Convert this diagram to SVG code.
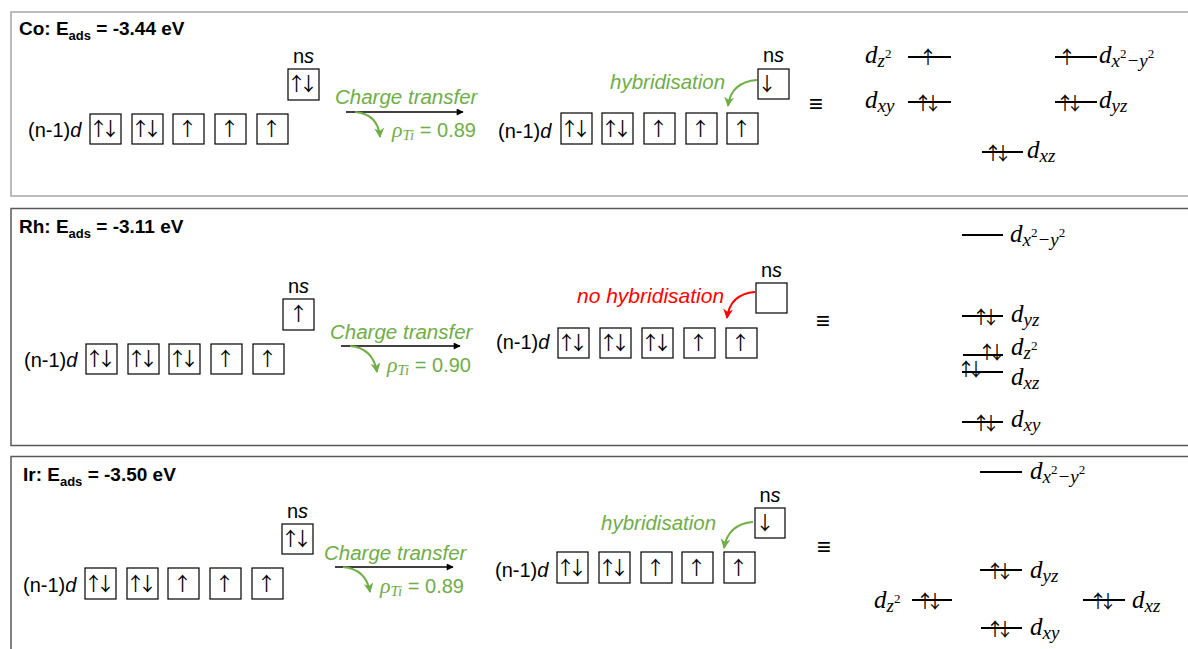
<svg xmlns="http://www.w3.org/2000/svg" width="1188" height="649" viewBox="0 0 1188 649">
<defs>
<style>
.bg{fill:#fff}
.pco{fill:none;stroke:#a6a6a6;stroke-width:1.5}
.pnl{fill:none;stroke:#595959;stroke-width:1.5}
.box{fill:#fff;stroke:#000;stroke-width:1.2}
.s{font-family:"Liberation Sans",Arial,sans-serif;fill:#000}
.title{font-size:19px;font-weight:bold}
.lbl{font-size:20px}
.spin{font-family:"Noto Sans CJK JP","DejaVu Sans",sans-serif;font-size:19px;text-anchor:middle;fill:#000}
.oa{font-family:"Noto Sans CJK JP","DejaVu Sans",sans-serif;font-size:18px;text-anchor:middle;fill:#000}
.it{font-style:italic}
.gt{fill:#70ad47;font-style:italic;font-size:20.5px}
.rt{fill:#ff0000;font-style:italic;font-size:21px}
.rho{fill:#70ad47;font-size:20px}
.m{font-family:"Liberation Serif","Times New Roman",serif;font-style:italic;font-size:25px;fill:#000}
.ms{font-size:19px}
.mp{font-size:13px;font-style:normal}
.mr{font-family:"Liberation Serif","Times New Roman",serif;font-style:italic}
.lvl{stroke:#000;stroke-width:2}
.eq{font-size:24px;text-anchor:middle}
.ct{stroke:#000;stroke-width:1.6;fill:none}
.gc{stroke:#70ad47;stroke-width:2;fill:none}
.rc{stroke:#ff0000;stroke-width:2;fill:none}
</style>
<marker id="ahK" viewBox="0 0 10 10" refX="9" refY="5" markerWidth="8" markerHeight="7" markerUnits="userSpaceOnUse" orient="auto"><path d="M0,0 L10,5 L0,10 z" fill="#000"/></marker>
<marker id="ahG" viewBox="0 0 10 10" refX="9" refY="5" markerWidth="10" markerHeight="10" markerUnits="userSpaceOnUse" orient="auto"><path d="M0,0 L10,5 L0,10 L3,5 z" fill="#70ad47"/></marker>
<marker id="ahR" viewBox="0 0 10 10" refX="9" refY="5" markerWidth="10" markerHeight="10" markerUnits="userSpaceOnUse" orient="auto"><path d="M0,0 L10,5 L0,10 L3,5 z" fill="#ff0000"/></marker>
</defs>
<rect class="bg" x="0" y="0" width="1188" height="649"/>

<!-- ===== Co panel ===== -->
<g id="panel-co">
<rect class="pco" x="11" y="12" width="1190" height="184"/>
<text class="s title" x="19" y="35">Co: E<tspan font-size="13" dy="5">ads</tspan><tspan dy="-5"> = -3.44 eV</tspan></text>
<g id="co-initial">
<text class="s lbl" x="28" y="137">(n-1)<tspan class="it">d</tspan></text>
<rect class="box" x="90" y="114" width="31" height="30"/>
<rect class="box" x="132" y="114" width="31" height="30"/>
<rect class="box" x="173" y="114" width="31" height="30"/>
<rect class="box" x="215" y="114" width="31" height="30"/>
<rect class="box" x="257" y="114" width="31" height="30"/>
<text class="spin" x="98.5 110.5" y="136">↑↓</text>
<text class="spin" x="140.5 152.5" y="136">↑↓</text>
<text class="spin" x="187.5" y="136">↑</text>
<text class="spin" x="229.5" y="136">↑</text>
<text class="spin" x="271.5" y="136">↑</text>
<rect class="box" x="288" y="69" width="31" height="31"/>
<text class="spin" x="296.5 308.5" y="91">↑↓</text>
<text class="s lbl" x="303.5" y="63" text-anchor="middle">n<tspan class="it">s</tspan></text>
</g>
<g id="co-transfer-labels">
<text class="s gt" x="335" y="104">Charge transfer</text>
<text class="s rho" x="392" y="137"><tspan class="mr" font-size="22">ρ</tspan><tspan class="mr" font-size="15" dy="3">Ti</tspan><tspan dy="-3"> = 0.89</tspan></text>
</g>
<g id="co-final">
<text class="s lbl" x="498" y="138">(n-1)<tspan class="it">d</tspan></text>
<rect class="box" x="561" y="113" width="31" height="31"/>
<rect class="box" x="602" y="113" width="31" height="31"/>
<rect class="box" x="644" y="113" width="31" height="31"/>
<rect class="box" x="686" y="113" width="31" height="31"/>
<rect class="box" x="727" y="113" width="31" height="31"/>
<text class="spin" x="569.5 581.5" y="135.5">↑↓</text>
<text class="spin" x="610.5 622.5" y="135.5">↑↓</text>
<text class="spin" x="658.5" y="135.5">↑</text>
<text class="spin" x="700.5" y="135.5">↑</text>
<text class="spin" x="741.5" y="135.5">↑</text>
<rect class="box" x="758" y="69" width="31" height="30"/>
<text class="spin" x="767" y="91">↓</text>
<text class="s lbl" x="773.5" y="62" text-anchor="middle">n<tspan class="it">s</tspan></text>
<text class="s gt" x="610" y="89" font-size="21px">hybridisation</text>
</g>
<text class="s eq" x="816" y="112">≡</text>
<g id="co-levels">
<line class="lvl" x1="908" y1="57" x2="951" y2="57"/>
<text class="oa" x="928" y="63.5">↑</text>
<text class="m" x="865" y="63">d<tspan class="ms" dy="4">z</tspan><tspan class="mp" dy="-9">2</tspan></text>
<line class="lvl" x1="908" y1="102" x2="951" y2="102"/>
<text class="oa" x="923 933" y="110">↑↓</text>
<text class="m" x="865" y="108">d<tspan class="ms" dy="4">xy</tspan></text>
<line class="lvl" x1="1055" y1="57" x2="1097" y2="57"/>
<text class="oa" x="1067" y="63.5">↑</text>
<text class="m" x="1099" y="63">d<tspan class="ms" dy="4">x</tspan><tspan class="mp" dy="-9">2</tspan><tspan class="ms" dy="9">−y</tspan><tspan class="mp" dy="-9">2</tspan></text>
<line class="lvl" x1="1055" y1="102" x2="1097" y2="102"/>
<text class="oa" x="1065 1075" y="110">↑↓</text>
<text class="m" x="1099" y="108">d<tspan class="ms" dy="4">yz</tspan></text>
<line class="lvl" x1="982" y1="152" x2="1023" y2="152"/>
<text class="oa" x="993 1003" y="160">↑↓</text>
<text class="m" x="1027" y="158">d<tspan class="ms" dy="4">xz</tspan></text>
</g>
</g>

<!-- ===== Rh panel ===== -->
<g id="panel-rh">
<rect class="pnl" x="11" y="208.5" width="1190" height="237"/>
<text class="s title" x="19" y="233">Rh: E<tspan font-size="13" dy="5">ads</tspan><tspan dy="-5"> = -3.11 eV</tspan></text>
<g id="rh-initial">
<text class="s lbl" x="24" y="367">(n-1)<tspan class="it">d</tspan></text>
<rect class="box" x="86" y="344" width="31" height="30"/>
<rect class="box" x="128" y="344" width="31" height="30"/>
<rect class="box" x="169" y="344" width="31" height="30"/>
<rect class="box" x="211" y="344" width="31" height="30"/>
<rect class="box" x="253" y="344" width="31" height="30"/>
<text class="spin" x="94.5 106.5" y="366">↑↓</text>
<text class="spin" x="136.5 148.5" y="366">↑↓</text>
<text class="spin" x="177.5 189.5" y="366">↑↓</text>
<text class="spin" x="225.5" y="366">↑</text>
<text class="spin" x="267.5" y="366">↑</text>
<rect class="box" x="283" y="299" width="31" height="31"/>
<text class="spin" x="298.5" y="321">↑</text>
<text class="s lbl" x="298.5" y="293" text-anchor="middle">n<tspan class="it">s</tspan></text>
</g>
<g id="rh-transfer-labels">
<text class="s gt" x="330" y="339">Charge transfer</text>
<text class="s rho" x="387" y="372"><tspan class="mr" font-size="22">ρ</tspan><tspan class="mr" font-size="15" dy="3">Ti</tspan><tspan dy="-3"> = 0.90</tspan></text>
</g>
<g id="rh-final">
<text class="s lbl" x="496" y="349">(n-1)<tspan class="it">d</tspan></text>
<rect class="box" x="558" y="328" width="31" height="30"/>
<rect class="box" x="600" y="328" width="31" height="30"/>
<rect class="box" x="642" y="328" width="31" height="30"/>
<rect class="box" x="684" y="328" width="31" height="30"/>
<rect class="box" x="726" y="328" width="31" height="30"/>
<text class="spin" x="566.5 578.5" y="350">↑↓</text>
<text class="spin" x="608.5 620.5" y="350">↑↓</text>
<text class="spin" x="650.5 662.5" y="350">↑↓</text>
<text class="spin" x="698.5" y="350">↑</text>
<text class="spin" x="740.5" y="350">↑</text>
<rect class="box" x="756" y="283" width="31" height="30"/>
<text class="s lbl" x="771.5" y="277" text-anchor="middle">n<tspan class="it">s</tspan></text>
<text class="s rt" x="577" y="303">no hybridisation</text>
</g>
<text class="s eq" x="823" y="329">≡</text>
<g id="rh-levels">
<line class="lvl" x1="962" y1="235" x2="1003" y2="235"/>
<text class="m" x="1010" y="242">d<tspan class="ms" dy="4">x</tspan><tspan class="mp" dy="-9">2</tspan><tspan class="ms" dy="9">−y</tspan><tspan class="mp" dy="-9">2</tspan></text>
<line class="lvl" x1="962" y1="316" x2="1003" y2="316"/>
<text class="oa" x="981 991" y="324">↑↓</text>
<text class="m" x="1011" y="322">d<tspan class="ms" dy="4">yz</tspan></text>
<line class="lvl" x1="963" y1="355" x2="1003" y2="355"/>
<text class="oa" x="987 997" y="358.5">↑↓</text>
<text class="m" x="1011" y="355">d<tspan class="ms" dy="4">z</tspan><tspan class="mp" dy="-9">2</tspan></text>
<line class="lvl" x1="962" y1="372" x2="1003" y2="372"/>
<text class="oa" x="966 976" y="375.5">↑↓</text>
<text class="m" x="1011" y="385">d<tspan class="ms" dy="4">xz</tspan></text>
<line class="lvl" x1="962" y1="422" x2="1003" y2="422"/>
<text class="oa" x="981 991" y="430">↑↓</text>
<text class="m" x="1011" y="427">d<tspan class="ms" dy="4">xy</tspan></text>
</g>
</g>

<!-- ===== Ir panel ===== -->
<g id="panel-ir">
<rect class="pnl" x="11" y="456.5" width="1190" height="200"/>
<text class="s title" x="23" y="481">Ir: E<tspan font-size="13" dy="5">ads</tspan><tspan dy="-5"> = -3.50 eV</tspan></text>
<g id="ir-initial">
<text class="s lbl" x="23" y="592">(n-1)<tspan class="it">d</tspan></text>
<rect class="box" x="85" y="568" width="31" height="31"/>
<rect class="box" x="127" y="568" width="31" height="31"/>
<rect class="box" x="168" y="568" width="31" height="31"/>
<rect class="box" x="210" y="568" width="31" height="31"/>
<rect class="box" x="252" y="568" width="31" height="31"/>
<text class="spin" x="93.5 105.5" y="591">↑↓</text>
<text class="spin" x="135.5 147.5" y="591">↑↓</text>
<text class="spin" x="182.5" y="591">↑</text>
<text class="spin" x="224.5" y="591">↑</text>
<text class="spin" x="266.5" y="591">↑</text>
<rect class="box" x="282" y="524" width="31" height="30"/>
<text class="spin" x="290.5 302.5" y="546">↑↓</text>
<text class="s lbl" x="297.5" y="518" text-anchor="middle">n<tspan class="it">s</tspan></text>
</g>
<g id="ir-transfer-labels">
<text class="s gt" x="324" y="560">Charge transfer</text>
<text class="s rho" x="380" y="593"><tspan class="mr" font-size="22">ρ</tspan><tspan class="mr" font-size="15" dy="3">Ti</tspan><tspan dy="-3"> = 0.89</tspan></text>
</g>
<g id="ir-final">
<text class="s lbl" x="495" y="577">(n-1)<tspan class="it">d</tspan></text>
<rect class="box" x="557" y="552" width="31" height="31"/>
<rect class="box" x="599" y="552" width="31" height="31"/>
<rect class="box" x="641" y="552" width="31" height="31"/>
<rect class="box" x="682" y="552" width="31" height="31"/>
<rect class="box" x="724" y="552" width="31" height="31"/>
<text class="spin" x="565.5 577.5" y="575">↑↓</text>
<text class="spin" x="607.5 619.5" y="575">↑↓</text>
<text class="spin" x="655.5" y="575">↑</text>
<text class="spin" x="696.5" y="575">↑</text>
<text class="spin" x="738.5" y="575">↑</text>
<rect class="box" x="755" y="508" width="30" height="30"/>
<text class="spin" x="765" y="530">↓</text>
<text class="s lbl" x="770" y="502" text-anchor="middle">n<tspan class="it">s</tspan></text>
<text class="s gt" x="601" y="530" font-size="21px">hybridisation</text>
</g>
<text class="s eq" x="824" y="555">≡</text>
<g id="ir-levels">
<line class="lvl" x1="980" y1="472" x2="1022" y2="472"/>
<text class="m" x="1030" y="479">d<tspan class="ms" dy="4">x</tspan><tspan class="mp" dy="-9">2</tspan><tspan class="ms" dy="9">−y</tspan><tspan class="mp" dy="-9">2</tspan></text>
<line class="lvl" x1="980" y1="570" x2="1022" y2="570"/>
<text class="oa" x="995 1005" y="578">↑↓</text>
<text class="m" x="1030" y="578">d<tspan class="ms" dy="4">yz</tspan></text>
<line class="lvl" x1="912" y1="600" x2="952" y2="600"/>
<text class="oa" x="925 935" y="608">↑↓</text>
<text class="m" x="874" y="608">d<tspan class="ms" dy="4">z</tspan><tspan class="mp" dy="-9">2</tspan></text>
<line class="lvl" x1="1083" y1="600" x2="1125" y2="600"/>
<text class="oa" x="1098 1108" y="608">↑↓</text>
<text class="m" x="1132" y="608">d<tspan class="ms" dy="4">xz</tspan></text>
<line class="lvl" x1="981" y1="628" x2="1022" y2="628"/>
<text class="oa" x="995 1005" y="636">↑↓</text>
<text class="m" x="1030" y="635">d<tspan class="ms" dy="4">xy</tspan></text>
</g>
</g>

<!-- ===== connectors ===== -->
<g id="connectors">
<path class="ct" d="M346,112 H463" marker-end="url(#ahK)"/>
<path class="gc" d="M355,112 Q378,114 380,137" marker-end="url(#ahG)"/>
<path class="gc" d="M757,80 Q731,82 728,106" marker-end="url(#ahG)"/>
<path class="ct" d="M341,346 H460" marker-end="url(#ahK)"/>
<path class="gc" d="M350,346 Q373,348 377,372" marker-end="url(#ahG)"/>
<path class="rc" d="M755,292 Q730,294 727,318" marker-end="url(#ahR)"/>
<path class="ct" d="M335,567 H453" marker-end="url(#ahK)"/>
<path class="gc" d="M343,567 Q366,569 370,592" marker-end="url(#ahG)"/>
<path class="gc" d="M753,522 Q728,524 724,548" marker-end="url(#ahG)"/>
</g>
</svg>
